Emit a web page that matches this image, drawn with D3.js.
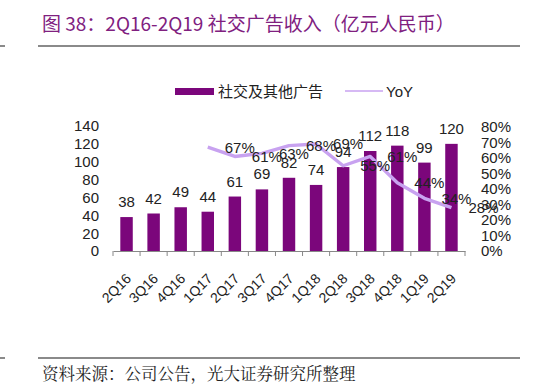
<!DOCTYPE html>
<html><head><meta charset="utf-8">
<script src="https://cdn.jsdelivr.net/npm/d3@7"></script>
<style>body{margin:0;background:#fff}svg{display:block}</style>
</head><body>
<svg id="c" width="550" height="386"></svg>
<script>
const categories = ["2Q16","3Q16","4Q16","1Q17","2Q17","3Q17","4Q17","1Q18","2Q18","3Q18","4Q18","1Q19","2Q19"];
const revenue = [38,42,49,44,61,69,82,74,94,112,118,99,120];
const yoy = [null,null,null,67,61,63,68,69,55,61,44,34,28];
const leftTicks = [0,20,40,60,80,100,120,140];
const rightTicks = [0,10,20,30,40,50,60,70,80];
const seriesNames = ["社交及其他广告","YoY"];
const titleText = "图 38：2Q16-2Q19 社交广告收入（亿元人民币）";
const sourceText = "资料来源：公司公告，光大证券研究所整理";

const svg = d3.select("#c");
const barColor = "#7B067B", lineColor = "#C8A2F0";
const font = "'Liberation Sans', Arial, sans-serif";
const cjk = "'Noto Sans CJK SC', sans-serif";

// title & rules
svg.append("text").attr("x",42).attr("y",31).attr("fill","#80207F")
  .style("font-family",cjk).style("font-size","19px").text(titleText);
svg.append("line").attr("x1",38).attr("x2",520).attr("y1",46).attr("y2",46).attr("stroke","#8a8a8a").attr("stroke-width",2);
svg.append("line").attr("x1",0).attr("x2",5).attr("y1",46).attr("y2",46).attr("stroke","#8a8a8a").attr("stroke-width",2);
svg.append("line").attr("x1",38).attr("x2",520).attr("y1",358).attr("y2",358).attr("stroke","#8a8a8a").attr("stroke-width",2);
svg.append("line").attr("x1",0).attr("x2",5).attr("y1",358).attr("y2",358).attr("stroke","#8a8a8a").attr("stroke-width",2);
svg.append("text").attr("x",42).attr("y",380).attr("fill","#222")
  .style("font-family","'Noto Serif CJK SC','Noto Sans CJK SC',serif").style("font-size","16.5px").text(sourceText);

const x = d3.scaleBand().domain(categories).range([113,465]).paddingInner(0.54).paddingOuter(0.27);
const xc = d3.scalePoint().domain(categories).range([113,465]).padding(0.5);
const y = d3.scaleLinear().domain([0,140]).range([251,126]);
const y2 = d3.scaleLinear().domain([0,80]).range([251,127]);

// left axis labels
svg.append("g").selectAll("text").data(leftTicks).join("text")
  .attr("x",99).attr("y",d=>y(d)).attr("dy","0.36em").attr("text-anchor","end")
  .style("font-family",font).style("font-size","15px").attr("fill","#222").text(d=>d);
// right axis labels
svg.append("g").selectAll("text").data(rightTicks).join("text")
  .attr("x",481).attr("y",d=>y2(d)).attr("dy","0.36em").attr("text-anchor","start")
  .style("font-family",font).style("font-size","15px").attr("fill","#222").text(d=>d+"%");

// bars
svg.append("g").selectAll("rect").data(revenue).join("rect")
  .attr("x",(d,i)=>x(categories[i])).attr("width",x.bandwidth())
  .attr("y",d=>y(d)).attr("height",d=>y(0)-y(d)).attr("fill",barColor);

// x axis
const step = (465-113)/categories.length;
const xAxis = d3.axisBottom(xc).tickSize(0).tickFormat("");
const gx = svg.append("g").attr("transform","translate(0,251)").call(xAxis);
gx.select(".domain").attr("stroke","#888").attr("stroke-width",1);
gx.selectAll(".tk").data(d3.range(categories.length+1)).join("line").attr("class","tk")
  .attr("x1",i=>113+i*step).attr("x2",i=>113+i*step).attr("y1",0).attr("y2",5).attr("stroke","#888");
svg.append("g").selectAll("text").data(categories).join("text")
  .attr("transform",d=>`translate(${xc(d)+2},${276}) rotate(-45)`)
  .attr("dy","0.35em")
  .attr("text-anchor","end").style("font-family",font).style("font-size","14px").attr("fill","#222").text(d=>d);

// line
const pts = categories.map((c,i)=>({c,v:yoy[i]})).filter(d=>d.v!=null);
svg.append("path").datum(pts).attr("fill","none").attr("stroke",lineColor).attr("stroke-width",3.4)
  .attr("stroke-linejoin","round")
  .attr("d",d3.line().x(d=>xc(d.c)).y(d=>y2(d.v)));

// bar labels
svg.append("g").selectAll("text").data(revenue).join("text")
  .attr("x",(d,i)=>xc(categories[i])).attr("y",d=>y(d)-10).attr("text-anchor","middle")
  .style("font-family",font).style("font-size","15px").attr("fill","#222").text(d=>d);
// line labels
svg.append("g").selectAll("text").data(pts).join("text")
  .attr("x",d=>xc(d.c)+17).attr("y",d=>y2(d.v)).attr("dy","0.36em")
  .style("font-family",font).style("font-size","15px").attr("fill","#222").text(d=>d.v+"%");

// legend
svg.append("rect").attr("x",175).attr("y",88).attr("width",39).attr("height",7).attr("fill",barColor);
svg.append("text").attr("x",218).attr("y",97).style("font-family",cjk).style("font-size","15px").attr("fill","#222").text(seriesNames[0]);
svg.append("line").attr("x1",345).attr("x2",383).attr("y1",91).attr("y2",91).attr("stroke",lineColor).attr("stroke-width",1.5);
svg.append("text").attr("x",386).attr("y",97).style("font-family",font).style("font-size","15px").attr("fill","#222").text(seriesNames[1]);
</script>
</body></html>
